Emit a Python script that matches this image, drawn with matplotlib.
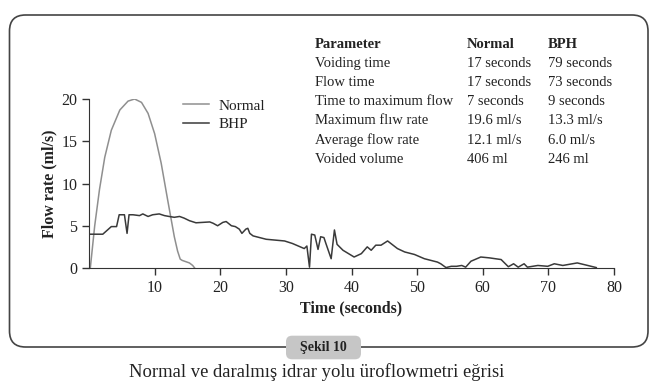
import matplotlib
matplotlib.use('Agg')
import matplotlib.pyplot as plt
from matplotlib.patches import FancyBboxPatch

# Normal flow curve (time in s, flow in ml/s)
normal_t = [0.2, 0.87, 1.6, 2.4, 3.4, 4.7, 5.95, 6.95, 8.0, 9.0, 10.0,
            11.0, 12.0, 13.0, 13.5, 13.9, 14.2, 15.3, 15.8, 16.1]
normal_q = [0.0, 5.0, 9.3, 13.1, 16.3, 18.7, 19.75, 20.0, 19.6, 18.3, 15.9,
            12.4, 8.0, 3.7, 2.0, 1.05, 0.9, 0.6, 0.3, 0.0]

# BHP flow curve
bhp_t = [0.1, 2.1, 3.4, 4.2, 4.6, 5.4, 5.8, 6.1, 6.7, 7.7, 8.2, 9.0, 9.7,
         10.7, 11.5, 12.2, 13.0, 13.8, 14.5, 15.3, 16.3, 18.4, 18.9, 19.6,
         20.4, 20.9, 21.7, 22.3, 22.9, 23.3, 23.9, 24.2, 24.5, 25.0, 27.0,
         29.8, 31.0, 32.8, 33.2, 33.6, 33.9, 34.4, 34.9, 35.3, 35.8, 36.1,
         36.9, 37.4, 37.8, 38.7, 40.4, 41.5, 42.4, 43.0, 43.7, 44.5, 45.5,
         47.0, 48.1, 49.6, 51.1, 52.1, 53.1, 53.6, 54.4, 55.2, 56.0, 56.8,
         57.4, 58.2, 59.7, 61.0, 62.8, 63.9, 64.7, 65.4, 66.3, 66.8, 68.4,
         69.9, 70.9, 72.2, 74.4, 76.0, 77.3]
bhp_q = [4.0, 4.0, 4.9, 4.9, 6.3, 6.3, 4.1, 6.3, 6.3, 6.2, 6.4, 6.1, 6.3,
         6.4, 6.2, 6.1, 6.0, 6.1, 5.9, 5.6, 5.35, 5.45, 5.3, 5.0,
         5.4, 5.5, 5.0, 4.9, 4.6, 4.1, 4.6, 4.7, 4.1, 3.8, 3.4,
         3.2, 2.9, 2.3, 2.6, 0.1, 4.0, 3.9, 2.2, 3.7, 3.6, 2.9,
         1.1, 4.5, 2.8, 2.1, 1.3, 1.7, 2.5, 2.1, 2.7, 2.7, 3.2,
         2.3, 1.9, 1.6, 1.1, 0.9, 0.7, 0.5, 0.05, 0.2, 0.2, 0.3,
         0.1, 0.8, 1.3, 1.2, 1.0, 0.15, 0.5, 0.1, 0.5, 0.1, 0.3,
         0.2, 0.5, 0.3, 0.6, 0.3, 0.05]

x_ticks = [10, 20, 30, 40, 50, 60, 70, 80]
y_ticks = [0, 5, 10, 15, 20]

table_rows = [
    ('Parameter', 'Normal', 'BPH'),
    ('Voiding time', '17 seconds', '79 seconds'),
    ('Flow time', '17 seconds', '73 seconds'),
    ('Time to maximum flow', '7 seconds', '9 seconds'),
    ('Maximum fl\u0131w rate', '19.6 ml/s', '13.3 ml/s'),
    ('Average flow rate', '12.1 ml/s', '6.0 ml/s'),
    ('Voided volume', '406 ml', '246 ml'),
]

plt.rcParams['font.family'] = ['Liberation Serif', 'DejaVu Serif']
txt = '#222222'

fig = plt.figure(figsize=(6.57, 3.81), dpi=100)
ax = fig.add_axes([89 / 657, 113 / 381, 525 / 657, 169 / 381])

ax.plot(normal_t, normal_q, color='#8f8f8f', lw=1.1, label='Normal')
ax.plot(bhp_t, bhp_q, color='#3a3a3a', lw=1.1, label='BHP')

ax.set_xlim(0, 80)
ax.set_ylim(0, 20)
ax.set_xticks(x_ticks)
ax.set_yticks(y_ticks)
ax.tick_params(direction='out', length=5, width=1, colors='#333333',
               labelsize=11.5, labelcolor=txt)
for side in ['top', 'right']:
    ax.spines[side].set_visible(False)
for side in ['left', 'bottom']:
    ax.spines[side].set_color('#333333')
ax.set_xlabel('Time (seconds)', fontsize=11.5, fontweight='bold', color=txt,
              labelpad=3)
ax.set_ylabel('Flow rate (ml/s)', fontsize=11.5, fontweight='bold', color=txt,
              labelpad=3)

ax.legend(loc='upper left', bbox_to_anchor=(183 / 657, 1 - 99 / 381),
          bbox_transform=fig.transFigure, frameon=False, fontsize=11,
          handlelength=1.7, handletextpad=0.65, labelspacing=0.3,
          borderpad=0, borderaxespad=0, labelcolor=txt)

# parameter table
col_x = [3.15, 4.667, 5.477]
row_y = [44.3, 63.3, 82.3, 101.7, 121, 140, 159.3]
for i, row in enumerate(table_rows):
    for j, cell in enumerate(row):
        fig.text(col_x[j], (381 - row_y[i]) / 100, cell,
                 transform=fig.dpi_scale_trans, fontsize=10.5, color=txt,
                 va='center', ha='left',
                 fontweight='bold' if i == 0 else 'normal')

# rounded frame and figure label
frame = FancyBboxPatch((0.095, 0.34), 6.385, 3.32,
                       boxstyle='round,pad=0,rounding_size=0.16',
                       transform=fig.dpi_scale_trans, fill=False,
                       edgecolor='#444444', lw=1.2)
fig.patches.append(frame)
tag = FancyBboxPatch((2.86, 0.217), 0.75, 0.236,
                     boxstyle='round,pad=0,rounding_size=0.06',
                     transform=fig.dpi_scale_trans, facecolor='#c6c6c6',
                     edgecolor='none', zorder=3)
fig.patches.append(tag)
fig.text(3.235, 0.335, '\u015eekil 10', transform=fig.dpi_scale_trans,
         fontsize=10, fontweight='bold', color=txt, ha='center', va='center',
         zorder=4)
fig.text(3.165, 0.093, 'Normal ve daralm\u0131\u015f idrar yolu \u00fcroflowmetri e\u011frisi',
         transform=fig.dpi_scale_trans, fontsize=13.4, color=txt,
         ha='center', va='center')

fig.savefig('out.png', dpi=100)
